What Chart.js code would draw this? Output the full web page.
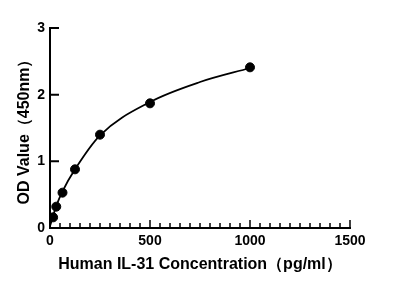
<!DOCTYPE html>
<html>
<head>
<meta charset="utf-8">
<script src="https://cdn.jsdelivr.net/npm/chart.js@4/dist/chart.umd.min.js"></script>
<style>
  html, body { margin: 0; padding: 0; background: #fff; }
</style>
</head>
<body>
<canvas id="chart" width="396" height="288"></canvas>
<script>
/* ================= DATA ================= */
const concentrations = [15.6, 31.25, 62.5, 125, 250, 500, 1000];
const odValues = [0.16, 0.32, 0.53, 0.88, 1.40, 1.87, 2.41];

// fitted curve
const curveX = [0, 15.6, 31.25, 62.5, 125, 250, 500, 750, 1000];
const curveY = [0.03, 0.18, 0.33, 0.55, 0.88, 1.39, 1.89, 2.19, 2.40];

const xTicks = [0, 500, 1000, 1500];
const yTicks = [0, 1, 2, 3];
const xMinorStep = 50;

const xTitle = "Human IL-31 Concentration（pg/ml）";
const yTitle = "OD Value（450nm）";

/* ================= AXES (inward ticks) ================= */
const axesPlugin = {
    id: "axes",
    afterDraw(chart) {
        const ctx = chart.ctx;
        const xs = chart.scales.x, ys = chart.scales.y;
        const x0 = xs.getPixelForValue(xTicks[0]);
        const x1 = xs.getPixelForValue(xTicks[xTicks.length - 1]);
        const y0 = ys.getPixelForValue(yTicks[0]);
        const y1 = ys.getPixelForValue(yTicks[yTicks.length - 1]);

        ctx.save();
        ctx.strokeStyle = "#000";
        ctx.lineWidth = 2;
        ctx.lineCap = "square";

        ctx.beginPath();
        ctx.moveTo(x0, y1);
        ctx.lineTo(x0, y0);
        ctx.lineTo(x1, y0);
        ctx.stroke();

        ctx.beginPath();
        yTicks.forEach(v => {
            const p = ys.getPixelForValue(v);
            ctx.moveTo(x0, p);
            ctx.lineTo(x0 + 8, p);
        });
        ctx.stroke();

        ctx.lineWidth = 1.5;
        ctx.lineCap = "butt";
        ctx.beginPath();
        for (let v = xTicks[0]; v <= xTicks[xTicks.length - 1]; v += xMinorStep) {
            const p = xs.getPixelForValue(v);
            const len = xTicks.includes(v) ? 8 : 5;
            ctx.moveTo(p, y0);
            ctx.lineTo(p, y0 - len);
        }
        ctx.stroke();
        ctx.restore();
    }
};

/* ================= CHART ================= */
const tickFont = { family: "'Liberation Sans', Arial, sans-serif", size: 14, weight: "bold" };
const titleFont = { family: "'Liberation Sans', Arial, sans-serif", size: 16, weight: "bold" };

new Chart(document.getElementById("chart"), {
    type: "scatter",
    data: {
        datasets: [
            {
                label: "Fit",
                type: "line",
                data: curveX.map((x, i) => ({ x: x, y: curveY[i] })),
                borderColor: "#000",
                borderWidth: 1.8,
                pointRadius: 0,
                cubicInterpolationMode: "monotone",
                fill: false
            },
            {
                label: "Standards",
                data: concentrations.map((x, i) => ({ x: x, y: odValues[i] })),
                backgroundColor: "#000",
                borderColor: "#000",
                pointRadius: 4.5,
                pointHoverRadius: 4.5
            }
        ]
    },
    options: {
        responsive: false,
        animation: false,
        layout: { padding: { left: 0, right: 46, top: 28, bottom: 0 } },
        plugins: {
            legend: { display: false },
            tooltip: { enabled: false }
        },
        scales: {
            x: {
                type: "linear",
                min: 0,
                max: 1500,
                afterBuildTicks: s => { s.ticks = xTicks.map(v => ({ value: v })); },
                afterFit: s => { s.height = 60; },
                grid: { display: false, drawTicks: false },
                border: { display: false },
                ticks: { color: "#000", font: tickFont, padding: 5, maxRotation: 0, callback: v => String(v) },
                title: {
                    display: true,
                    text: xTitle,
                    color: "#000",
                    font: titleFont,
                    padding: { top: 0, bottom: 14 }
                }
            },
            y: {
                type: "linear",
                min: 0,
                max: 3,
                afterBuildTicks: s => { s.ticks = yTicks.map(v => ({ value: v })); },
                afterFit: s => { s.width = 50; },
                grid: { display: false, drawTicks: false },
                border: { display: false },
                ticks: { color: "#000", font: tickFont, padding: 5, callback: v => String(v) },
                title: {
                    display: true,
                    text: yTitle,
                    color: "#000",
                    font: titleFont,
                    padding: { top: 15, bottom: 0 }
                }
            }
        }
    },
    plugins: [axesPlugin]
});
</script>
</body>
</html>
